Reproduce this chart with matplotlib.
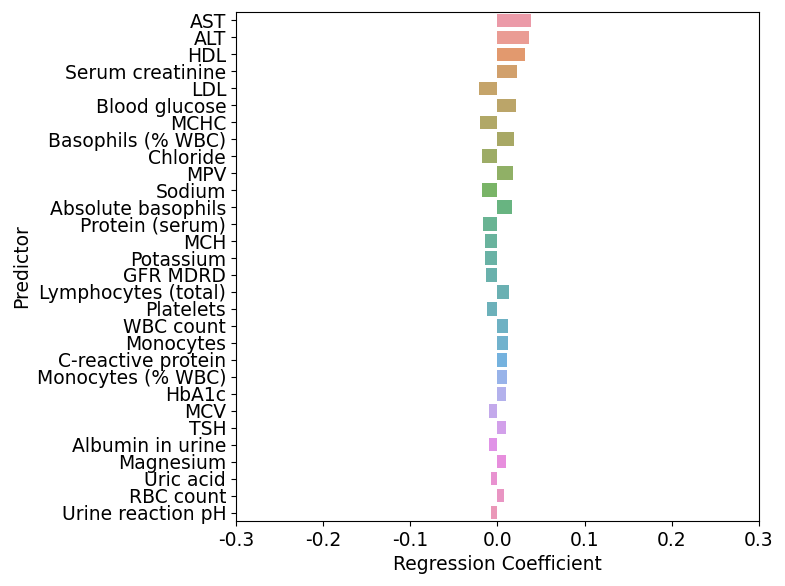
import matplotlib
matplotlib.use("Agg")
import matplotlib.pyplot as plt
import seaborn as sns
import pandas as pd

plt.rcParams['axes.unicode_minus'] = False

predictors = ["AST", "ALT", "HDL", "Serum creatinine", "LDL", "Blood glucose", "MCHC",
              "Basophils (% WBC)", "Chloride", "MPV", "Sodium", "Absolute basophils",
              "Protein (serum)", "MCH", "Potassium", "GFR MDRD", "Lymphocytes (total)",
              "Platelets", "WBC count", "Monocytes", "C-reactive protein", "Monocytes (% WBC)",
              "HbA1c", "MCV", "TSH", "Albumin in urine", "Magnesium", "Uric acid",
              "RBC count", "Urine reaction pH"]
coefs = [0.038, 0.0356, 0.031, 0.022, -0.021, 0.0207, -0.020,
         0.0184, -0.0182, 0.0182, -0.0176, 0.0168,
         -0.0164, -0.0146, -0.0141, -0.0134, 0.0134,
         -0.0122, 0.0122, 0.0121, 0.0107, 0.0104,
         0.0102, -0.0099, 0.0100, -0.0092, 0.0096, -0.0080,
         0.0073, -0.0073]

df = pd.DataFrame({"Predictor": predictors, "Coef": coefs})

fig = plt.figure(figsize=(7.85, 5.86), dpi=100)
ax = fig.add_axes([0.3006, 0.1109, 0.6663, 0.8686])
sns.barplot(data=df, x="Coef", y="Predictor", hue="Predictor", legend=False,
            alpha=0.8, ax=ax)
ax.set_xlim(-0.3, 0.3)
ax.set_xticks([-0.3, -0.2, -0.1, 0.0, 0.1, 0.2, 0.3])
ax.set_xlabel("Regression Coefficient", fontsize=13.5)
ax.set_ylabel("Predictor", fontsize=13.5)
ax.tick_params(labelsize=13.5)
plt.savefig("out.png", dpi=100)
